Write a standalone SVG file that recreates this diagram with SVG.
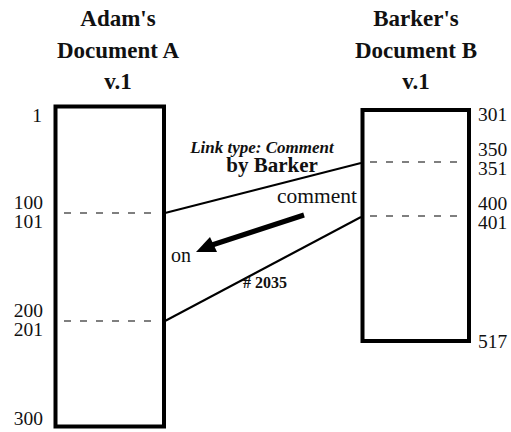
<svg xmlns="http://www.w3.org/2000/svg" width="511" height="432" viewBox="0 0 511 432">
<style>
text{font-family:"Liberation Serif",Tinos,"Times New Roman",serif;fill:#111}
.h{font-size:23px;font-weight:bold;text-anchor:middle}
.n{font-size:19.5px}
.box{fill:#fff;stroke:#000;stroke-width:4}
.dash{stroke:#555;stroke-width:1.5;stroke-dasharray:7 9;fill:none}
.link{stroke:#000;stroke-width:2;fill:none}
</style>
<rect width="511" height="432" fill="#fff"/>
<g id="docA">
<text class="h" x="118" y="26">Adam's</text>
<text class="h" x="118" y="58">Document A</text>
<text class="h" x="118" y="89">v.1</text>
<rect class="box" x="55.5" y="106.5" width="108.5" height="320"/>
<line class="dash" x1="64" y1="213" x2="157" y2="213"/>
<line class="dash" x1="64" y1="321" x2="157" y2="321"/>
<g class="n" text-anchor="end">
<text x="42" y="122">1</text>
<text x="43" y="209">100</text>
<text x="43" y="227.5">101</text>
<text x="43" y="317">200</text>
<text x="43" y="335.5">201</text>
<text x="43" y="425">300</text>
</g>
</g>
<g id="docB">
<text class="h" x="416" y="26">Barker's</text>
<text class="h" x="416" y="58">Document B</text>
<text class="h" x="416" y="89">v.1</text>
<rect class="box" x="362.5" y="110" width="106.5" height="231"/>
<line class="dash" x1="370" y1="162" x2="461" y2="162"/>
<line class="dash" x1="370" y1="216" x2="461" y2="216"/>
<g class="n">
<text x="478" y="121">301</text>
<text x="478" y="156">350</text>
<text x="478" y="174.5">351</text>
<text x="478" y="210">400</text>
<text x="478" y="228.5">401</text>
<text x="478" y="348">517</text>
</g>
</g>
<g id="connectors">
<line class="link" x1="165" y1="213" x2="361" y2="163"/>
<line class="link" x1="165" y1="321" x2="361" y2="217"/>
<line x1="304" y1="215" x2="212" y2="245" stroke="#000" stroke-width="5"/>
<polygon points="196,252 210,237 217,252" fill="#000"/>
</g>
<g id="labels">
<text x="262" y="153" font-size="17" font-style="italic" font-weight="bold" text-anchor="middle">Link type: Comment</text>
<text x="272" y="172" font-size="21" font-weight="bold" text-anchor="middle">by Barker</text>
<text x="317" y="203" font-size="21.5" text-anchor="middle">comment</text>
<text x="171" y="262" font-size="20">on</text>
<text x="265" y="288" font-size="16" font-weight="bold" text-anchor="middle">#&#160;2035</text>
</g>
</svg>
